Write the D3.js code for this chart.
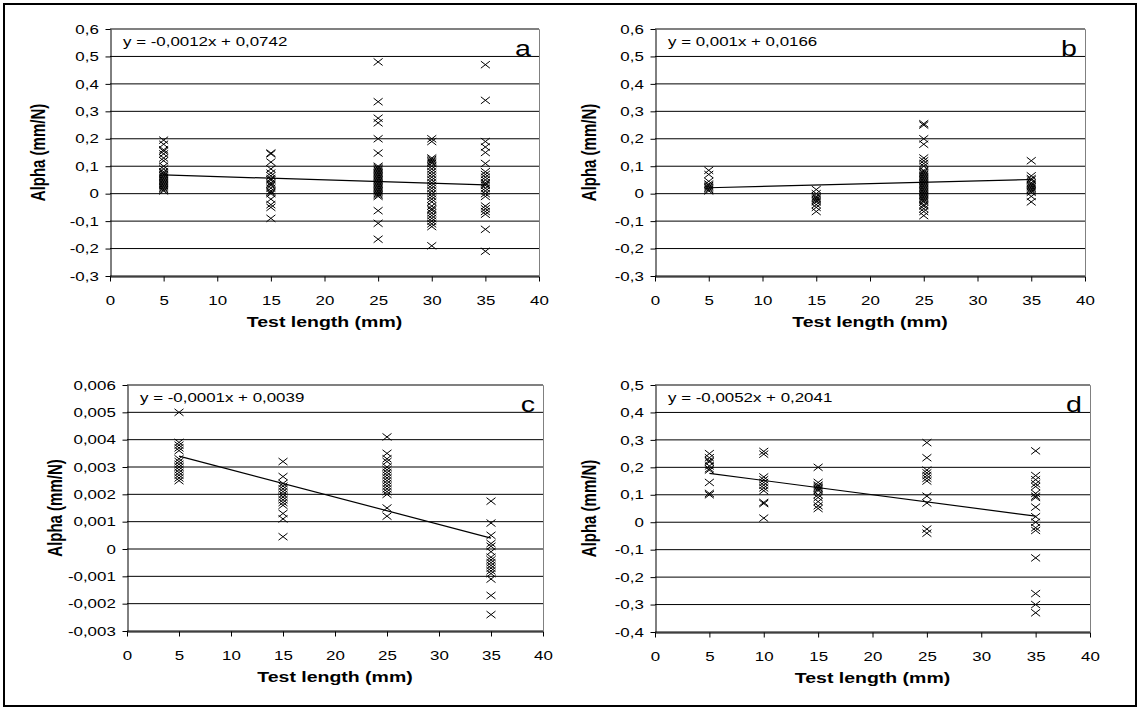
<!DOCTYPE html>
<html>
<head>
<meta charset="utf-8">
<script src="https://cdn.jsdelivr.net/npm/d3@7"></script>
<style>
  body { margin: 0; background: #fff; }
  svg { display: block; }
  text { font-family: Arial, "Liberation Sans", sans-serif; fill: #000; }
</style>
</head>
<body>
<div id="chart"></div>
<script>
// four scatter panels (a-d): alpha vs test length, with linear trend lines

// ---- data ----
const panelLetters = ["a", "b", "c", "d"];
const equationLabels = [
  "y = -0,0012x + 0,0742",
  "y = 0,001x + 0,0166",
  "y = -0,0001x + 0,0039",
  "y = -0,0052x + 0,2041"
];
const trendSlopes = [-0.0012, 0.001, -0.0001, -0.0052];
const trendIntercepts = [0.0742, 0.0166, 0.0039, 0.2041];
const xDomain = [0, 40];
const yDomains = [[-0.3, 0.6], [-0.3, 0.6], [-0.003, 0.006], [-0.4, 0.5]];
const yDecimals = [1, 1, 3, 1];
const xTitle = "Test length (mm)";
const yTitle = "Alpha (mm/N)";

const lengthsA = [5, 15, 25, 30, 35];
const alphaA = [
  [0.195, 0.18, 0.16, 0.155, 0.145, 0.13, 0.12, 0.1, 0.09, 0.08, 0.075, 0.07, 0.065, 0.06, 0.055, 0.05, 0.045, 0.04, 0.035, 0.03, 0.025, 0.02, 0.015, 0.01],
  [0.148, 0.145, 0.115, 0.09, 0.075, 0.065, 0.055, 0.05, 0.04, 0.035, 0.03, 0.02, 0.01, 0.005, 0, -0.02, -0.04, -0.05, -0.09],
  [0.48, 0.335, 0.275, 0.258, 0.2, 0.148, 0.1, 0.095, 0.09, 0.085, 0.08, 0.075, 0.07, 0.065, 0.06, 0.055, 0.05, 0.045, 0.04, 0.035, 0.03, 0.025, 0.02, 0.015, 0.01, 0.005, 0, -0.005, -0.01, -0.062, -0.108, -0.166],
  [0.2, 0.19, 0.13, 0.125, 0.12, 0.115, 0.11, 0.1, 0.09, 0.08, 0.07, 0.06, 0.05, 0.04, 0.03, 0.02, 0.01, 0, -0.01, -0.02, -0.03, -0.045, -0.055, -0.06, -0.07, -0.08, -0.09, -0.1, -0.11, -0.12, -0.19],
  [0.47, 0.34, 0.19, 0.17, 0.15, 0.11, 0.08, 0.07, 0.06, 0.05, 0.04, 0.035, 0.03, 0.02, 0.01, 0, -0.01, -0.045, -0.055, -0.065, -0.075, -0.13, -0.21]
];

const lengthsB = [5, 15, 25, 35];
const alphaB = [
  [0.085, 0.07, 0.045, 0.035, 0.03, 0.025, 0.02, 0.015, 0.01],
  [0.015, 0, -0.01, -0.015, -0.02, -0.025, -0.03, -0.04, -0.05, -0.065],
  [0.255, 0.25, 0.2, 0.18, 0.13, 0.12, 0.11, 0.1, 0.085, 0.08, 0.075, 0.07, 0.065, 0.06, 0.055, 0.05, 0.045, 0.04, 0.035, 0.03, 0.025, 0.02, 0.015, 0.01, 0.005, 0, -0.005, -0.01, -0.015, -0.02, -0.025, -0.03, -0.04, -0.045, -0.055, -0.065, -0.08],
  [0.12, 0.065, 0.055, 0.05, 0.04, 0.035, 0.03, 0.025, 0.02, 0.015, 0.01, 0.005, -0.01, -0.03]
];

const lengthsC = [5, 15, 25, 35];
const alphaC = [
  [0.005, 0.0039, 0.0038, 0.0037, 0.0036, 0.0033, 0.0032, 0.0031, 0.003, 0.0029, 0.0028, 0.0027, 0.0026, 0.0025],
  [0.0032, 0.00265, 0.0024, 0.0023, 0.0022, 0.0021, 0.002, 0.0019, 0.0018, 0.0017, 0.0016, 0.0013, 0.0011, 0.00045],
  [0.0041, 0.0035, 0.0033, 0.0032, 0.003, 0.0029, 0.0028, 0.0027, 0.0026, 0.0025, 0.0024, 0.0023, 0.0022, 0.0021, 0.002, 0.0015, 0.0012],
  [0.00175, 0.00095, 0.0005, 0.0002, 0.0001, -0.0001, -0.0003, -0.0004, -0.0005, -0.0006, -0.0007, -0.0008, -0.0009, -0.0011, -0.0017, -0.0024]
];

const lengthsD = [5, 10, 15, 25, 35];
const alphaD = [
  [0.25, 0.235, 0.225, 0.22, 0.205, 0.195, 0.19, 0.145, 0.105, 0.1],
  [0.258, 0.248, 0.165, 0.155, 0.145, 0.135, 0.125, 0.115, 0.072, 0.068, 0.015],
  [0.2, 0.145, 0.135, 0.13, 0.125, 0.12, 0.115, 0.1, 0.09, 0.075, 0.06, 0.05],
  [0.29, 0.235, 0.19, 0.18, 0.17, 0.16, 0.15, 0.095, 0.07, -0.025, -0.04],
  [0.26, 0.17, 0.155, 0.14, 0.13, 0.105, 0.095, 0.09, 0.055, 0.02, 0, -0.02, -0.03, -0.13, -0.26, -0.3, -0.33]
];

const panelLengths = [lengthsA, lengthsB, lengthsC, lengthsD];
const panelAlphas = [alphaA, alphaB, alphaC, alphaD];

// ---- layout ----
const W = 1140, H = 711;
const SX = 1.3; // the original picture is stretched horizontally
const boxes = [
  { left: 110, right: 539, top: 29, bottom: 276, titleX: 38 },
  { left: 655, right: 1085, top: 29, bottom: 276, titleX: 589 },
  { left: 127, right: 543, top: 385, bottom: 631, titleX: 55 },
  { left: 655, right: 1090, top: 385, bottom: 632, titleX: 589 }
];

const locale = d3.formatLocale({ decimal: ",", thousands: ".", grouping: [3], currency: ["", ""], minus: "-" });
function tickFormat(dec) {
  const f = locale.format(`.${dec}f`);
  return (d) => (Math.abs(d) < 1e-12 ? "0" : f(d));
}

const svg = d3.select("#chart").append("svg")
  .attr("width", W)
  .attr("height", H);

svg.append("rect")
  .attr("x", 4).attr("y", 4)
  .attr("width", W - 8).attr("height", H - 9)
  .attr("fill", "#fff")
  .attr("stroke", "#000")
  .attr("stroke-width", 2);

const markerPath = "M-4.5,-3.5L4.5,3.5M-4.5,3.5L4.5,-3.5";

panelLetters.forEach((letter, i) => {
  const b = boxes[i];
  const g = svg.append("g");

  const x = d3.scaleLinear().domain(xDomain).range([b.left, b.right]);
  const y = d3.scaleLinear().domain(yDomains[i]).range([b.bottom, b.top]);
  const yTicks = y.ticks(9);

  // gridlines
  g.append("g")
    .selectAll("line")
    .data(yTicks)
    .join("line")
    .attr("x1", b.left).attr("x2", b.right)
    .attr("y1", (d) => y(d)).attr("y2", (d) => y(d))
    .attr("stroke", "#000")
    .attr("stroke-width", 1);

  // plot frame (top/right)
  g.append("path")
    .attr("d", `M${b.left},${b.top + 0.5}H${b.right + 0.5}V${b.bottom}`)
    .attr("fill", "none")
    .attr("stroke", "#808080");

  // y axis
  const yAxis = g.append("g")
    .attr("transform", `translate(${b.left + 0.5},0)`)
    .call(d3.axisLeft(y).tickValues(yTicks).tickSize(5).tickSizeOuter(0).tickPadding(4).tickFormat(tickFormat(yDecimals[i])));
  yAxis.selectAll("text")
    .attr("transform", `scale(${SX},1)`)
    .style("font-size", "13px");

  // x axis
  const xAxis = g.append("g")
    .attr("transform", `translate(0,${b.bottom + 0.5})`)
    .call(d3.axisBottom(x).ticks(8).tickSize(5).tickSizeOuter(0).tickPadding(14));
  xAxis.selectAll("text")
    .attr("transform", `scale(${SX},1)`)
    .style("font-size", "13px");

  g.selectAll(".domain, .tick line").attr("stroke", "#000");
  g.selectAll(".tick text").attr("fill", "#000");

  // points
  const pts = panelLengths[i].flatMap((len, k) => panelAlphas[i][k].map((a) => [len, a]));
  g.append("g")
    .selectAll("path")
    .data(pts)
    .join("path")
    .attr("transform", (d) => `translate(${x(d[0])},${y(d[1])})`)
    .attr("d", markerPath)
    .attr("fill", "none")
    .attr("stroke", "#000")
    .attr("stroke-width", 1);

  // trend line
  const [x0, x1] = d3.extent(panelLengths[i]);
  const line = d3.line().x((d) => x(d)).y((d) => y(trendSlopes[i] * d + trendIntercepts[i]));
  g.append("path")
    .datum([x0, x1])
    .attr("d", line)
    .attr("fill", "none")
    .attr("stroke", "#000")
    .attr("stroke-width", 1.2);

  // equation label
  g.append("text")
    .attr("transform", `translate(${b.left + 13},${b.top + 17}) scale(${SX},1)`)
    .style("font-size", "13px")
    .text(equationLabels[i]);

  // panel letter
  g.append("text")
    .attr("transform", `translate(${b.right - 8},${b.top + 27}) scale(${SX},1)`)
    .attr("text-anchor", "end")
    .style("font-size", "22px")
    .text(letter);

  // axis titles
  g.append("text")
    .attr("transform", `translate(${(b.left + b.right) / 2},${b.bottom + 51}) scale(${SX},1)`)
    .attr("text-anchor", "middle")
    .style("font-size", "15px")
    .style("font-weight", "bold")
    .text(xTitle);

  g.append("text")
    .attr("transform", `translate(${b.titleX},${(b.top + b.bottom) / 2}) scale(${SX},1) rotate(-90)`)
    .attr("text-anchor", "middle")
    .attr("dy", "0.36em")
    .style("font-size", "15px")
    .style("font-weight", "bold")
    .text(yTitle);
});
</script>
</body>
</html>
